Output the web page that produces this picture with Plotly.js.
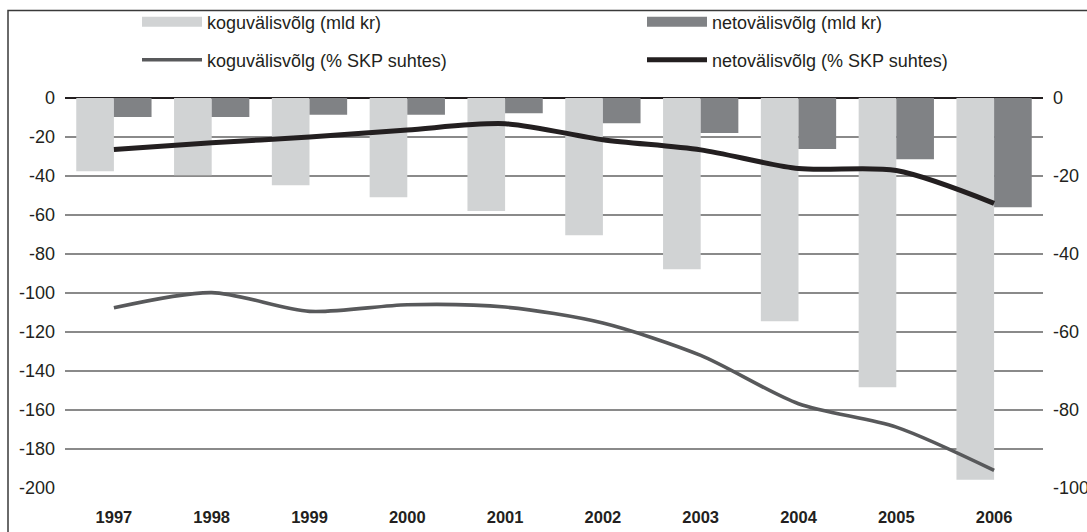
<!DOCTYPE html>
<html>
<head>
<meta charset="utf-8">
<script src="https://cdn.plot.ly/plotly-3.0.1.min.js"></script>
<style>
html,body{margin:0;padding:0;background:#ffffff;}
#chart{width:1087px;height:532px;}
</style>
</head>
<body>
<div id="chart"></div>
<script>
const years = ['1997','1998','1999','2000','2001','2002','2003','2004','2005','2006'];
const grossDebtBn = [-37.5,-39.6,-44.7,-50.9,-58.0,-70.4,-87.8,-114.5,-148.3,-195.8];
const netDebtBn = [-9.8,-9.8,-8.6,-8.6,-7.8,-12.9,-17.9,-26.2,-31.4,-56.0];
const grossDebtPct = [-53.8,-49.9,-54.7,-53.0,-53.6,-57.7,-66.0,-78.4,-84.4,-95.5];
const netDebtPct = [-13.2,-11.5,-10.0,-8.2,-6.6,-10.7,-13.3,-18.1,-18.6,-27.0];
const seriesNames = ['koguvälisvõlg (mld kr)','netovälisvõlg (mld kr)','koguvälisvõlg (% SKP suhtes)','netovälisvõlg (% SKP suhtes)'];
const leftTickVals = [0,-20,-40,-60,-80,-100,-120,-140,-160,-180,-200];
const leftTickText = ['0','-20','-40','-60','-80','-100','-120','-140','-160','-180','-200'];
const rightTickVals = [0,-20,-40,-60,-80,-100];
const rightTickText = ['0','-20','-40','-60','-80','-100'];

const FONT = '"Liberation Sans", Arial, Helvetica, sans-serif';
const TXT = '#231f20';
const LIGHT = '#d1d3d4', DARK = '#808285';

const traces = [
  {type:'bar', name:seriesNames[0], x:years, y:grossDebtBn, yaxis:'y',
   marker:{color:LIGHT}, showlegend:false},
  {type:'bar', name:seriesNames[1], x:years, y:netDebtBn, yaxis:'y',
   marker:{color:DARK}, showlegend:false},
  {type:'scatter', mode:'lines', name:seriesNames[2], x:years, y:grossDebtPct, yaxis:'y2',
   line:{color:'#58595b', width:3.6, shape:'spline', smoothing:0.8}, legend:'legend3'},
  {type:'scatter', mode:'lines', name:seriesNames[3], x:years, y:netDebtPct, yaxis:'y2',
   line:{color:'#231f20', width:5, shape:'spline', smoothing:0.8}, legend:'legend4'},
  // legend swatches for the two bar series (wide rectangular keys as in the original)
  {type:'scatter', mode:'lines', name:seriesNames[0], x:[null], y:[null], yaxis:'y',
   line:{color:LIGHT, width:13}, legend:'legend', hoverinfo:'skip'},
  {type:'scatter', mode:'lines', name:seriesNames[1], x:[null], y:[null], yaxis:'y',
   line:{color:DARK, width:13}, legend:'legend2', hoverinfo:'skip'}
];

function leg(xpx, ypx){
  return {x:xpx/1087, xref:'container', xanchor:'left', y:1-ypx/532, yref:'container', yanchor:'middle',
    orientation:'h', bgcolor:'rgba(0,0,0,0)', borderwidth:0, itemwidth:60,
    font:{family:FONT, size:18, color:TXT}};
}

const layout = {
  width:1087, height:532,
  margin:{l:65, r:44, t:98, b:44, pad:0},
  paper_bgcolor:'#ffffff', plot_bgcolor:'#ffffff',
  font:{family:FONT, size:18, color:TXT},
  barmode:'group', bargap:0.23, bargroupgap:0,
  xaxis:{type:'category', range:[-0.5,9.5], showgrid:false, zeroline:false, showline:false, ticks:'',
    tickfont:{family:FONT, size:16.5, color:TXT, weight:'bold'}, ticklabelstandoff:17, fixedrange:true},
  yaxis:{range:[-200,0], tickvals:leftTickVals, ticktext:leftTickText, showgrid:true, gridcolor:'#8a8a8a', gridwidth:1.4,
    zeroline:true, zerolinecolor:'#231f20', zerolinewidth:2.2, showline:false, ticks:'', ticklabelstandoff:9,
    tickfont:{family:FONT, size:18, color:TXT}, fixedrange:true},
  yaxis2:{range:[-100,0], overlaying:'y', side:'right', tickvals:rightTickVals, ticktext:rightTickText,
    showgrid:false, zeroline:false, showline:false, ticks:'', ticklabelstandoff:9,
    tickfont:{family:FONT, size:18, color:TXT}, fixedrange:true},
  showlegend:true,
  legend:leg(137,22), legend2:leg(642,22), legend3:leg(137,60), legend4:leg(642,60),
  shapes:[
    {type:'rect', xref:'paper', yref:'paper', x0:(8-65)/978, x1:1.2, y0:-0.3, y1:(488-10.5)/390,
     line:{color:'#3a3a3a', width:1.5}, fillcolor:'rgba(0,0,0,0)', layer:'above'}
  ]
};

Plotly.newPlot('chart', traces, layout, {staticPlot:true, displayModeBar:false});
</script>
</body>
</html>
